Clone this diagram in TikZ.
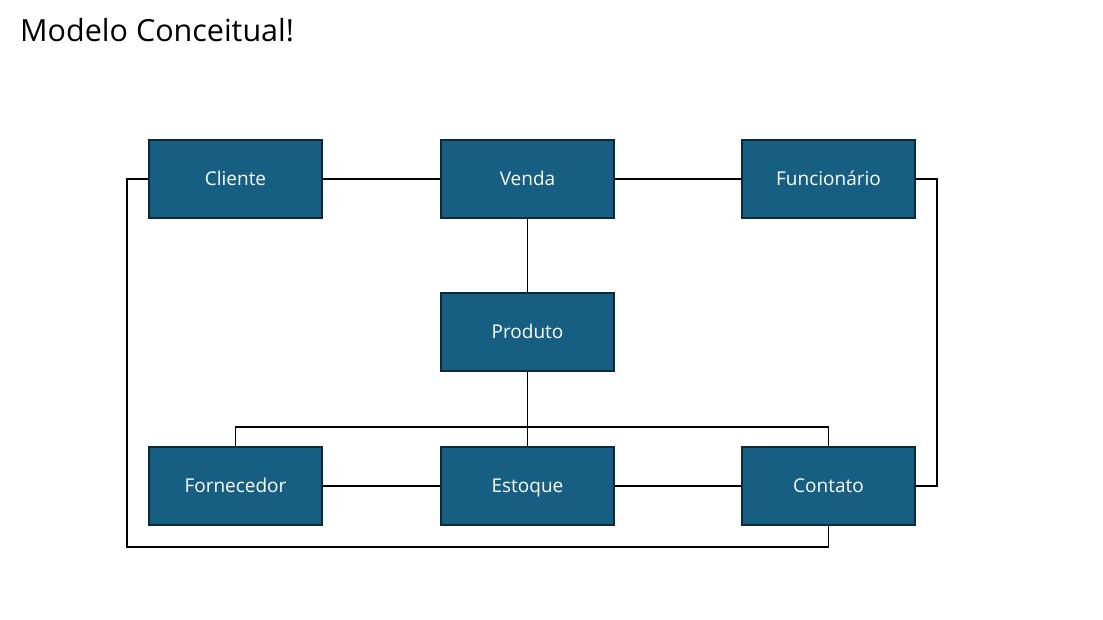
\documentclass[tikz,border=0pt]{standalone}
\usepackage{fontspec}
\setmainfont{Open Sans}
\definecolor{boxfill}{HTML}{175F82}
\definecolor{boxline}{HTML}{0E2A3A}
\begin{document}
\begin{tikzpicture}[x=1pt,y=-1pt,
  ent/.style={draw=boxline,fill=boxfill,line width=1.8pt,minimum width=173pt,minimum height=78pt,inner sep=0pt,text=white,text height=13.5pt,text depth=0pt,font=\fontsize{19}{22}\selectfont},
  conn/.style={draw=black,line width=1.8pt}]
\useasboundingbox (0,0) rectangle (1103,619);
\node[anchor=base west,inner sep=0pt,font=\fontsize{30.5}{34}\selectfont] (title) at (20,41) {Modelo Conceitual!};
\node[ent] (cli) at (235.5,179) {Cliente};
\node[ent] (ven) at (527.5,179) {Venda};
\node[ent] (fun) at (828.5,179) {Funcionário};
\node[ent] (pro) at (527.5,332) {Produto};
\node[ent] (for) at (235.5,486) {Fornecedor};
\node[ent] (est) at (527.5,486) {Estoque};
\node[ent] (con) at (828.5,486) {Contato};
\draw[conn] (cli) -- (ven);
\draw[conn] (ven) -- (fun);
\draw[conn] (ven) -- (pro);
\draw[conn] (pro) -- (est);
\draw[conn] (for.north) -- ++(0,-19) -| (con.north);
\draw[conn] (for) -- (est);
\draw[conn] (est) -- (con);
\draw[conn] (fun.east) -- ++(21,0) |- (con.east);
\draw[conn] (cli.west) -- ++(-21,0) |- ([yshift=-21pt]con.south) -- (con.south);
\end{tikzpicture}
\end{document}
